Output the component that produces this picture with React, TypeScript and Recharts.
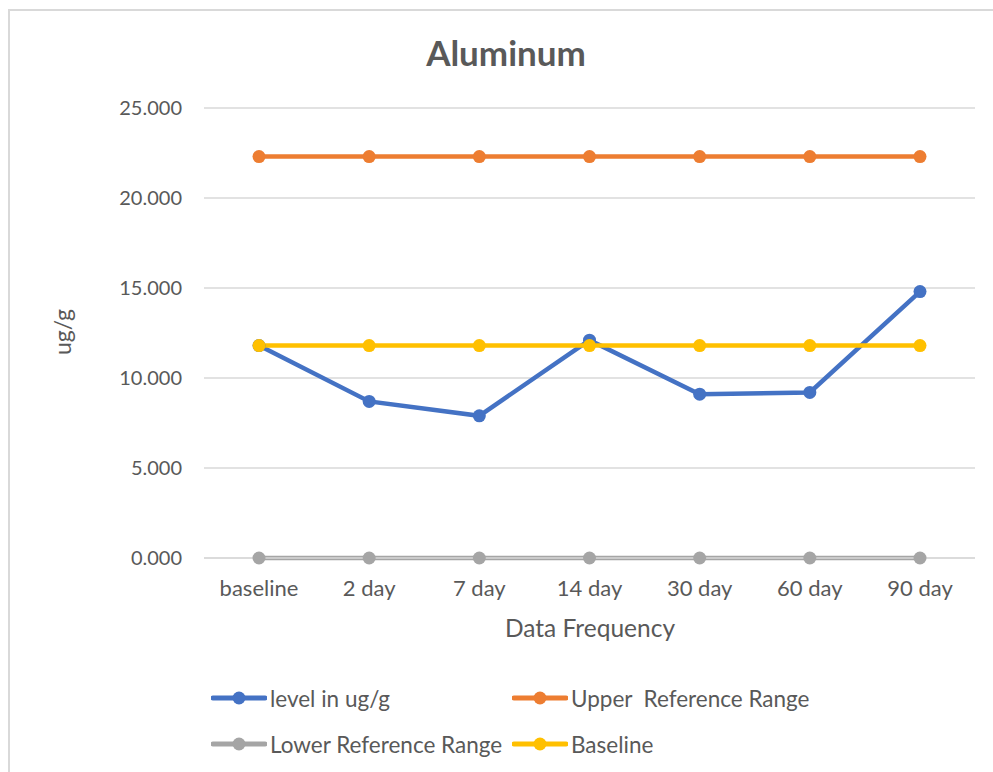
import React from "react";
import { CartesianGrid, Line, LineChart, XAxis, YAxis } from "recharts";

const categories = ["baseline", "2 day", "7 day", "14 day", "30 day", "60 day", "90 day"];
const levelValues = [11.8, 8.7, 7.9, 12.1, 9.1, 9.2, 14.8];
const upperValues = [22.3, 22.3, 22.3, 22.3, 22.3, 22.3, 22.3];
const lowerValues = [0, 0, 0, 0, 0, 0, 0];
const baselineValues = [11.8, 11.8, 11.8, 11.8, 11.8, 11.8, 11.8];
const yTicks = [0, 5, 10, 15, 20, 25];

const SERIES = [
  { key: "level", name: "level in ug/g", color: "#4472C4" },
  { key: "upper", name: "Upper  Reference Range", color: "#ED7D31" },
  { key: "lower", name: "Lower Reference Range", color: "#A5A5A5" },
  { key: "baseline", name: "Baseline", color: "#FFC000" },
];

const data = categories.map((c, i) => ({
  category: c,
  level: levelValues[i],
  upper: upperValues[i],
  lower: lowerValues[i],
  baseline: baselineValues[i],
}));

const FONT = "Lato, 'Open Sans', sans-serif";
const TEXT = "#595959";

function LegendItem({ name, color }: { name: string; color: string }) {
  return (
    <div style={{ display: "flex", alignItems: "center", whiteSpace: "pre", height: 24 }}>
      <svg width={56} height={16} style={{ marginRight: 3 }}>
        <line x1={2} y1={8} x2={54} y2={8} stroke={color} strokeWidth={5} strokeLinecap="round" />
        <circle cx={28} cy={8} r={6.5} fill={color} />
      </svg>
      <span>{name}</span>
    </div>
  );
}

export default function App() {
  return (
    <div
      style={{
        position: "absolute",
        left: 0,
        top: 0,
        width: 993,
        height: 772,
        background: "#fff",
        fontFamily: FONT,
        color: TEXT,
        overflow: "hidden",
      }}
    >
      <div
        style={{
          position: "absolute",
          left: 8,
          top: 9,
          width: 1100,
          height: 900,
          borderLeft: "2px solid #d9d9d9",
          borderTop: "2px solid #d9d9d9",
        }}
      />
      <div
        style={{
          position: "absolute",
          left: 0,
          width: 1012,
          top: 31,
          textAlign: "center",
          fontSize: 35,
          fontWeight: 700,
        }}
      >
        Aluminum
      </div>
      <div
        style={{
          position: "absolute",
          left: 36,
          top: 318,
          width: 52,
          fontSize: 23,
          textAlign: "center",
          transform: "rotate(-90deg)",
        }}
      >
        ug/g
      </div>
      <div
        style={{
          position: "absolute",
          left: 190,
          width: 800,
          top: 613,
          textAlign: "center",
          fontSize: 24.5,
        }}
      >
        Data Frequency
      </div>
      <div style={{ position: "absolute", left: 0, top: 0 }}>
        <LineChart
          width={993}
          height={772}
          data={data}
          margin={{ top: 108, right: 18, left: 124, bottom: 174 }}
        >
          <CartesianGrid vertical={false} stroke="#d9d9d9" strokeWidth={1.5} />
          <XAxis
            dataKey="category"
            axisLine={{ stroke: "#d9d9d9", strokeWidth: 1.5 }}
            tickLine={false}
            tickMargin={16}
            height={40}
            padding={{ left: 55, right: 55 }}
            tick={{ fill: TEXT, fontSize: 22, fontFamily: FONT }}
            interval={0}
          />
          <YAxis
            width={80}
            domain={[0, 25]}
            ticks={yTicks}
            axisLine={false}
            tickLine={false}
            tickMargin={16}
            tick={{ fill: TEXT, fontSize: 20, fontFamily: FONT }}
            tickFormatter={(v) => Number(v).toFixed(3)}
          />
          {SERIES.map((s) => (
            <Line
              key={s.key}
              dataKey={s.key}
              name={s.name}
              type="linear"
              stroke={s.color}
              strokeWidth={4.5}
              dot={{ r: 6.5, fill: s.color, stroke: s.color, strokeWidth: 0 }}
              activeDot={false}
              isAnimationActive={false}
            />
          ))}
        </LineChart>
      </div>
      <div
        style={{
          position: "absolute",
          left: 211,
          top: 686,
          display: "grid",
          gridTemplateColumns: "301px auto",
          rowGap: 22,
          fontSize: 22.5,
        }}
      >
        {SERIES.map((s) => (
          <LegendItem key={s.key} name={s.name} color={s.color} />
        ))}
      </div>
    </div>
  );
}
